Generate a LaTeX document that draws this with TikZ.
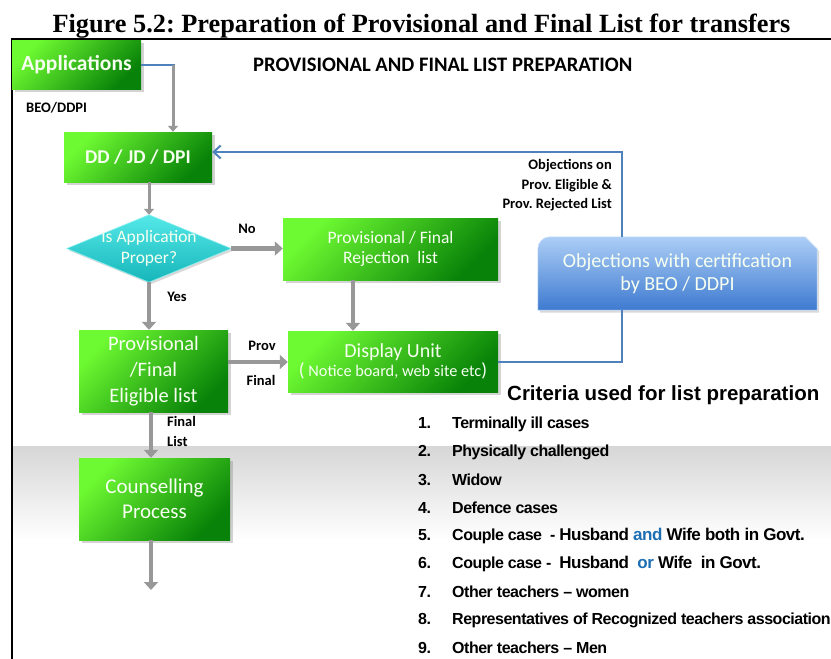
\documentclass[tikz,border=0pt]{standalone}
\usepackage{fontspec}
\usetikzlibrary{arrows.meta,shadows,calc}
\newfontfamily\titlefont{Liberation Serif}
\newfontfamily\calfont{Carlito}
\newfontfamily\listfont[LetterSpace=-3]{Liberation Sans}
\newfontfamily\headfont{Liberation Sans}
\newcommand{\fsz}[2]{\fontsize{#1}{#2}\selectfont}
\frenchspacing

\definecolor{glight}{RGB}{110,250,50}
\definecolor{gmid}{RGB}{45,200,20}
\definecolor{gdark}{RGB}{8,130,8}
\definecolor{cyanlight}{RGB}{85,232,232}
\definecolor{cyandark}{RGB}{22,182,186}
\definecolor{bluelight}{RGB}{172,206,246}
\definecolor{bluedark}{RGB}{62,122,208}
\definecolor{lineblue}{RGB}{79,129,189}
\definecolor{arrowgray}{RGB}{152,152,152}
\definecolor{txtblue}{RGB}{30,110,180}
\definecolor{boxtext}{RGB}{246,255,240}

\begin{document}
\begin{tikzpicture}[x=1pt,y=-1pt,
  greenbox/.style={rectangle, inner sep=0pt, align=center, text=boxtext,
    top color=glight, middle color=gmid, bottom color=gdark, shading angle=45,
    drop shadow={shadow xshift=2.5pt, shadow yshift=-2.5pt, opacity=0.35},
    font=\calfont},
  frame/.style={rectangle, inner sep=0pt},
  boxlabel/.style={inner sep=0pt, align=center, text=boxtext},
  lbl/.style={inner sep=0pt, font=\calfont\bfseries\fsz{14.5}{17}},
  grayarrow/.style={draw=arrowgray, line width=4.5pt, -{Triangle[length=8pt,width=14pt]}},
  thinarrow/.style={draw=arrowgray, line width=3pt, -{Triangle[length=6pt,width=10pt]}},
  blueline/.style={draw=lineblue, line width=2pt},
  listitem/.style={anchor=west, inner sep=0pt, font=\listfont\bfseries\fsz{16}{18}},
]
\useasboundingbox (0,0) rectangle (831,659);
\clip (0,0) rectangle (831,659);

% soft grey band behind the lower half of the chart
\shade[top color=gray!32, bottom color=white] (12,446) rectangle (831,540);

% frame under the caption
\draw[line width=1.3pt] (831,39) -- (12,39) -- (12,659);

% caption and heading
\node[anchor=base, inner sep=0pt, font=\titlefont\bfseries\fsz{26.3}{30}] (title) at (421.5,32)
  {Figure 5.2: Preparation of Provisional and Final List for transfers};
\node[anchor=west, inner sep=0pt, font=\calfont\bfseries\fsz{20.6}{24}] (head) at (253,65)
  {PROVISIONAL AND FINAL LIST PREPARATION};

% flow boxes
\node[greenbox, minimum width=129pt, minimum height=49pt, font=\calfont\bfseries\fsz{21.5}{24}] (app) at (76.5,64.5) {Applications};
\node[greenbox, minimum width=148pt, minimum height=50pt, font=\calfont\bfseries\fsz{19.5}{22}] (dd) at (138,157) {DD / JD / DPI};
\node[greenbox, minimum width=215pt, minimum height=62pt, font=\calfont\fsz{17.5}{20}] (rej) at (390.5,249) {Provisional / Final\\Rejection\ \ list};
\node[greenbox, minimum width=210pt, minimum height=61pt] (disp) at (393,361.5)
  {{\fsz{20}{23}Display Unit}\\[1pt]{\fsz{16.3}{19}{\fsz{19}{19}(} Notice board, web site etc{\fsz{19}{19})}}};
\node[greenbox, minimum width=149pt, minimum height=82pt, font=\calfont\fsz{20.5}{26}] (elig) at (153.5,371) {Provisional\\/Final\\Eligible list};
\node[greenbox, minimum width=151pt, minimum height=82pt, font=\calfont\fsz{21}{25}] (couns) at (154.5,499) {Counselling\\Process};

% decision diamond
\node[frame, minimum width=164pt, minimum height=67pt] (dia) at (149,248.5) {};
\path[top color=cyanlight, bottom color=cyandark, draw=cyanlight!70!white, line width=0.6pt,
      drop shadow={shadow xshift=2pt, shadow yshift=-2pt, opacity=0.3}]
  (dia.north) -- (dia.east) -- (dia.south) -- (dia.west) -- cycle;
\node[boxlabel, font=\calfont\fsz{17.5}{21}] (diat) at (dia) {Is Application\\Proper?};

% objections box: rounded top-left, clipped top-right corner
\node[frame, minimum width=279pt, minimum height=73pt] (obj) at (677.5,273.5) {};
\path[top color=bluelight, bottom color=bluedark, draw=bluelight!60!white, line width=0.6pt,
      drop shadow={shadow xshift=2pt, shadow yshift=-2.5pt, opacity=0.3}]
  (obj.south west) -- ([yshift=-12pt]obj.north west)
  arc[start angle=180, end angle=90, radius=12pt]
  -- ([xshift=-12pt]obj.north east) -- ([yshift=-12pt]obj.north east)
  -- (obj.south east) -- cycle;
\node[boxlabel, font=\calfont\fsz{20}{23}] (objt) at (obj) {Objections with certification\\by BEO / DDPI};
\coordinate (ot) at ([xshift=-55.5pt]obj.north);
\coordinate (ob) at ([xshift=-55.5pt]obj.south);

% connectors
\coordinate (j1) at (173,64.5);
\draw[blueline] (app.east) -- ([xshift=2pt]j1);
\draw[thinarrow] (j1) -- (j1 |- dd.north);
\draw[thinarrow] (dia.north |- dd.south) -- (dia.north);
\draw[grayarrow] (dia.east) -- (dia.east -| rej.west);
\draw[grayarrow] (dia.south) -- (dia.south |- elig.north);
\draw[grayarrow] ([xshift=-37.5pt]rej.south) -- ([xshift=-37.5pt]rej.south |- disp.north);
\draw[grayarrow] ([yshift=9pt]elig.east) -- ([yshift=9pt]elig.east -| disp.west);
\draw[grayarrow] ([xshift=-2.5pt]elig.south) -- ([xshift=-2.5pt]elig.south |- couns.north);
\coordinate (cend) at (151,590);
\draw[grayarrow] (couns.south -| cend) -- (cend);
\draw[blueline] (disp.east) -| (ob);
\draw[blueline, -{Straight Barb[length=7pt,width=13pt]}] (ot) |- ([yshift=5pt]dd.east);

% connector labels
\node[lbl, anchor=west] (beo) at (26,108) {BEO/DDPI};
\node[lbl] (no) at (247,229) {No};
\node[lbl] (yes) at (177,297) {Yes};
\node[lbl] (prov) at (262,346) {Prov};
\node[lbl] (fin) at (261,380) {Final};
\node[lbl, anchor=north west, align=left, font=\calfont\bfseries\fsz{14.5}{20}] (finlist) at (167,416) {Final\\List};
\node[lbl, anchor=east, align=right, font=\calfont\bfseries\fsz{14.5}{19.5}] (objlbl) at (612,185.5)
  {Objections on\\Prov. Eligible \&\\Prov. Rejected List};

% criteria list
\node[anchor=west, inner sep=0pt, font=\headfont\bfseries\fsz{20.5}{24}] (crit) at (507,395) {Criteria used for list preparation};
\node[listitem] (c1) at (418,424) {\makebox[34pt][l]{1.}Terminally ill cases};
\node[listitem] (c2) at (418,452) {\makebox[34pt][l]{2.}Physically challenged};
\node[listitem] (c3) at (418,480) {\makebox[34pt][l]{3.}Widow};
\node[listitem] (c4) at (418,508) {\makebox[34pt][l]{4.}Defence cases};
\node[listitem] (c5) at (418,536) {\makebox[34pt][l]{5.}Couple case\ \ - {\fsz{17}{19}Husband \textcolor{txtblue}{and} Wife both in Govt.}};
\node[listitem] (c6) at (418,564) {\makebox[34pt][l]{6.}Couple case -\ \ {\fsz{17}{19}Husband\ \ \textcolor{txtblue}{or} Wife\ \ in Govt.}};
\node[listitem] (c7) at (418,592) {\makebox[34pt][l]{7.}Other teachers \textendash\ women};
\node[listitem] (c8) at (418,620) {\makebox[34pt][l]{8.}Representatives of Recognized teachers association};
\node[listitem] (c9) at (418,648) {\makebox[34pt][l]{9.}Other teachers \textendash\ Men};
\end{tikzpicture}
\end{document}
